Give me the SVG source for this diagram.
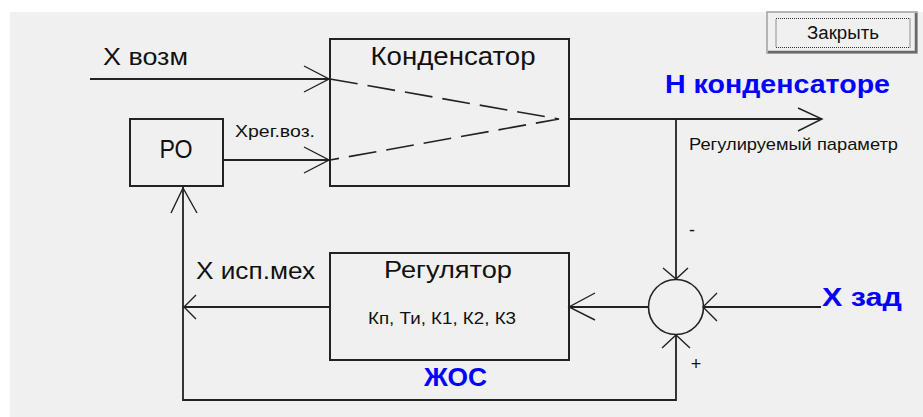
<svg xmlns="http://www.w3.org/2000/svg" width="923" height="417" viewBox="0 0 923 417">
<style>
.ln{fill:none;stroke:#222;stroke-width:1.8}
.ah{fill:none;stroke:#222;stroke-width:1.4}
.box{fill:none;stroke:#222;stroke-width:2}
.dash{fill:none;stroke:#222;stroke-width:1.6;stroke-dasharray:28 10}
.t{font-family:"Liberation Sans",Arial,sans-serif;fill:#111}
.b{font-family:"Liberation Sans",Arial,sans-serif;fill:#0000ff;font-weight:bold}
</style>
<rect x="0" y="0" width="923" height="417" fill="#ffffff"/>
<rect x="10" y="12" width="913" height="405" fill="#f0f0f0"/>

<g id="button">
<rect x="767" y="12" width="150" height="41" fill="#f0f0f0" stroke="#a0a0a0" stroke-width="1.5"/>
<polyline points="768,52 916,52 916,13" fill="none" stroke="#696969" stroke-width="2.5"/>
<rect x="776" y="18.5" width="134" height="29" fill="none" stroke="#333" stroke-width="1" stroke-dasharray="1 1"/>
<text class="t" x="843" y="39" font-size="18" text-anchor="middle" textLength="72" lengthAdjust="spacingAndGlyphs">Закрыть</text>
</g>

<g id="condenser">
<rect class="box" x="330" y="39" width="239" height="147"/>
<text class="t" x="453" y="65" font-size="26" text-anchor="middle" textLength="165" lengthAdjust="spacingAndGlyphs">Конденсатор</text>
<polyline class="dash" points="330,79 559,119 330,160"/>
</g>

<g id="ro">
<rect class="box" x="130" y="119" width="93" height="67"/>
<text class="t" x="176" y="158" font-size="26" text-anchor="middle" textLength="33" lengthAdjust="spacingAndGlyphs">РО</text>
</g>

<g id="regulator">
<rect class="box" x="330" y="253" width="239" height="107"/>
<text class="t" x="448" y="278" font-size="23" text-anchor="middle" textLength="128" lengthAdjust="spacingAndGlyphs">Регулятор</text>
<text class="t" x="442" y="324" font-size="17" text-anchor="middle" textLength="148" lengthAdjust="spacingAndGlyphs">Кп, Ти, К1, К2, К3</text>
</g>

<g id="summator">
<circle cx="676" cy="307" r="27.5" fill="none" stroke="#222" stroke-width="1.6"/>
<text class="t" x="692" y="236" font-size="18" text-anchor="middle">-</text>
<text class="t" x="696" y="370" font-size="18" text-anchor="middle">+</text>
</g>

<g id="connectors">
<line class="ln" x1="90" y1="79" x2="329" y2="79"/>
<polyline class="ah" points="304,66 329,79 304,92"/>
<line class="ln" x1="223" y1="160" x2="329" y2="160"/>
<polyline class="ah" points="304,147 329,160 304,173"/>
<line class="ln" x1="569" y1="119" x2="822" y2="119"/>
<polyline class="ah" points="798,108 822,119 798,131"/>
<line class="ln" x1="676" y1="119" x2="676" y2="279"/>
<polyline class="ah" points="663,268 676,279 688,268"/>
<line class="ln" x1="821" y1="307" x2="703" y2="307"/>
<polyline class="ah" points="717,293 703,307 717,321"/>
<line class="ln" x1="649" y1="307" x2="569" y2="307"/>
<polyline class="ah" points="595,293 569,307 595,320"/>
<line class="ln" x1="330" y1="307" x2="183" y2="307"/>
<polyline class="ah" points="196,295 184,307 196,319"/>
<polyline class="ln" points="676,335 676,400 183,400 183,187"/>
<polyline class="ah" points="662,348 676,335 690,348"/>
<polyline class="ah" points="171,213 183,188 197,213"/>
</g>

<g id="labels">
<text class="t" x="103" y="65" font-size="24" textLength="85" lengthAdjust="spacingAndGlyphs">X возм</text>
<text class="t" x="235" y="137" font-size="16" textLength="80" lengthAdjust="spacingAndGlyphs">Xрег.воз.</text>
<text class="b" x="665" y="93" font-size="26" textLength="225" lengthAdjust="spacingAndGlyphs">Н конденсаторе</text>
<text class="t" x="689" y="150" font-size="17" textLength="209" lengthAdjust="spacingAndGlyphs">Регулируемый параметр</text>
<text class="b" x="822" y="306" font-size="26" textLength="80" lengthAdjust="spacingAndGlyphs">X зад</text>
<text class="t" x="196" y="279" font-size="24" textLength="119" lengthAdjust="spacingAndGlyphs">X исп.мех</text>
<text class="b" x="424" y="386" font-size="26" textLength="63" lengthAdjust="spacingAndGlyphs">ЖОС</text>
</g>
</svg>
